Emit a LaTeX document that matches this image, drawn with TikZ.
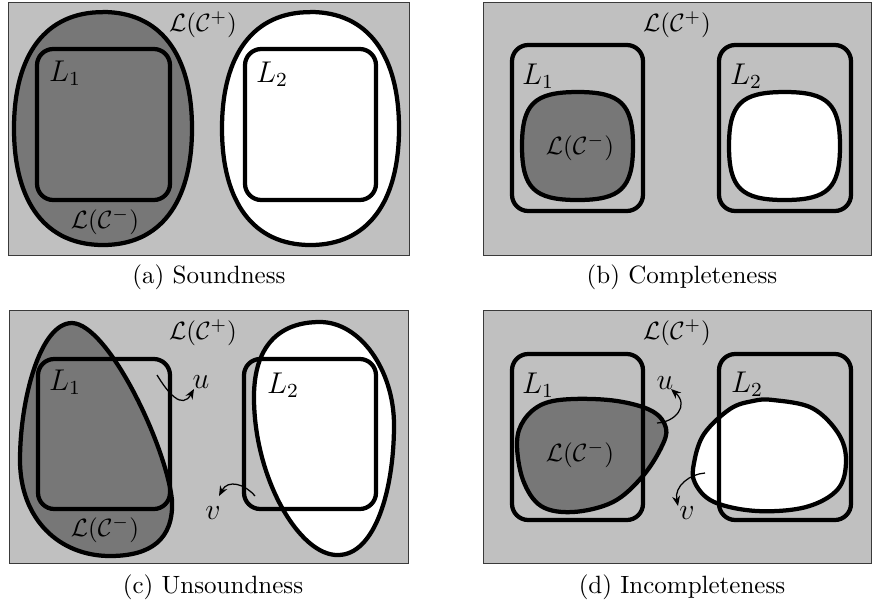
\documentclass[tikz,border=0pt]{standalone}
\usetikzlibrary{arrows.meta}
\definecolor{bggray}{HTML}{C0C0C0}
\definecolor{neggray}{HTML}{777777}
\definecolor{frame}{HTML}{3A3A3A}
\tikzset{
  panel/.style={fill=bggray, draw=frame, line width=0.4pt},
  lang/.style={draw=black, line width=1.7pt, rounded corners=6.5pt},
  negset/.style={draw=black, fill=neggray, line width=1.7pt, line join=round},
  posset/.style={draw=black, fill=white, line width=1.7pt, line join=round},
  witness/.style={draw=black, line width=0.5pt, -{Stealth[length=4pt,width=3.2pt]}},
  lbl/.style={inner sep=0pt},
  biglbl/.style={inner sep=0pt, font=\large},
  caption/.style={inner sep=0pt},
  % closed rounded oval of unit radius; \sqk sets how square it is
  squircle/.pic={
    \path[pic actions] (0,-1) .. controls (\sqk,-1) and (1,-\sqk) .. (1,0)
      .. controls (1,\sqk) and (\sqk,1) .. (0,1)
      .. controls (-\sqk,1) and (-1,\sqk) .. (-1,0)
      .. controls (-1,-\sqk) and (-\sqk,-1) .. cycle;
  }
}
\begin{document}
\begin{tikzpicture}[x=0.4pt, y=-0.4pt]
\useasboundingbox (0,0) rectangle (873,608);

% ---------- (a) Soundness ----------
\path[panel] (8,2) rectangle (409,255);
\def\sqk{0.64}
\pic[negset, xscale=89, yscale=116.5] at (103,128.5) {squircle};
\pic[posset, xscale=88.5, yscale=116.5] at (310.5,128.5) {squircle};
\draw[lang] (37,49) rectangle (170,200);
\draw[lang] (245,49) rectangle (376,200);
\node[lbl] (aPos) at (203,25) {$\mathcal{L}(\mathcal{C}^{+})$};
\node[lbl] (aNeg) at (105,222) {$\mathcal{L}(\mathcal{C}^{-})$};
\node[biglbl] (aL1) at (65,73) {$L_1$};
\node[biglbl] (aL2) at (272,74) {$L_2$};
\node[caption] (aCap) at (209,277) {(a) Soundness};

% ---------- (b) Completeness ----------
\path[panel] (483,2) rectangle (871,255);
\def\sqk{0.78}
\pic[negset, xscale=55.5, yscale=54] at (577.5,146) {squircle};
\pic[posset, xscale=55.5, yscale=54] at (784.5,146) {squircle};
\draw[lang] (512,45) rectangle (643,211);
\draw[lang] (719,45) rectangle (851,211);
\node[lbl] (bPos) at (677,25) {$\mathcal{L}(\mathcal{C}^{+})$};
\node[lbl] (bNeg) at (580,148) {$\mathcal{L}(\mathcal{C}^{-})$};
\node[biglbl] (bL1) at (538,76) {$L_1$};
\node[biglbl] (bL2) at (746,76) {$L_2$};
\node[caption] (bCap) at (682,277) {(b) Completeness};

% ---------- (c) Unsoundness ----------
\path[panel] (9,310) rectangle (408,563);
% teardrop-shaped negative set
\path[negset] (72,323) .. controls (108,324) and (166,445) .. (172,500)
  .. controls (174,540) and (150,556) .. (110,556)
  .. controls (60,556) and (20,520) .. (20,460)
  .. controls (20,400) and (40,323) .. cycle;
% tilted oval positive set
\path[posset] (320,322) .. controls (360,322) and (394,370) .. (394,425)
  .. controls (394,490) and (375,555) .. (338,555)
  .. controls (300,556) and (255,480) .. (254,400)
  .. controls (253,345) and (280,322) .. cycle;
\draw[lang] (38,359) rectangle (170,509);
\draw[lang] (244,359) rectangle (376,509);
\node[lbl] (cPos) at (203,333) {$\mathcal{L}(\mathcal{C}^{+})$};
\node[lbl] (cNeg) at (105,530) {$\mathcal{L}(\mathcal{C}^{-})$};
\node[biglbl] (cL1) at (65,382) {$L_1$};
\node[biglbl] (cL2) at (283,385) {$L_2$};
\node[biglbl] (cu) at (201,382) {$u$};
\node[biglbl] (cv) at (213,513) {$v$};
\coordinate (cuFrom) at (157,375);
\coordinate (cuTo) at (194,389);
\coordinate (cvFrom) at (255,496);
\coordinate (cvTo) at (219,496);
\draw[witness] (cuFrom) .. controls (168,393) and (182,410) .. (cuTo);
\draw[witness] (cvFrom) .. controls (245,484) and (228,479) .. (cvTo);
\node[caption] (cCap) at (213,587) {(c) Unsoundness};

% ---------- (d) Incompleteness ----------
\path[panel] (483,310) rectangle (871,563);
\path[negset] plot[smooth cycle, tension=0.6] coordinates {
  (573,399) (617,401) (652,411) (666,428) (661,448) (642,477) (613,502)
  (573,512) (541,506) (523,480) (517,443) (524,420) (543,404) };
\path[posset] plot[smooth cycle, tension=0.6] coordinates {
  (773,400) (812,408) (838,433) (846,460) (838,489) (806,507) (757,511)
  (714,502) (695,483) (694,463) (704,434) (730,409) (753,401) };
\draw[lang] (512,354) rectangle (643,520);
\draw[lang] (719,354) rectangle (851,520);
\node[lbl] (dPos) at (677,333) {$\mathcal{L}(\mathcal{C}^{+})$};
\node[lbl] (dNeg) at (580,455) {$\mathcal{L}(\mathcal{C}^{-})$};
\node[biglbl] (dL1) at (538,385) {$L_1$};
\node[biglbl] (dL2) at (747,384) {$L_2$};
\node[biglbl] (du) at (665,383) {$u$};
\node[biglbl] (dv) at (687,513) {$v$};
\coordinate (duFrom) at (657,423);
\coordinate (duTo) at (671,389);
\coordinate (dvFrom) at (705,473);
\coordinate (dvTo) at (678,506);
\draw[witness] (duFrom) .. controls (676,422) and (689,405) .. (duTo);
\draw[witness] (dvFrom) .. controls (690,474) and (674,486) .. (dvTo);
\node[caption] (dCap) at (682,587) {(d) Incompleteness};
\end{tikzpicture}
\end{document}
